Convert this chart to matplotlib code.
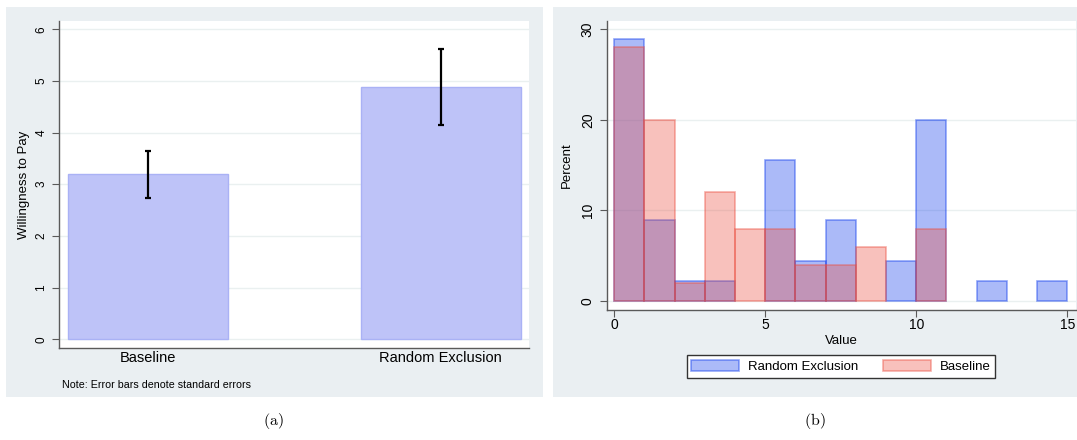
import matplotlib.pyplot as plt
import numpy as np
from matplotlib.patches import Rectangle

plt.rcParams['font.family'] = ['Liberation Sans', 'DejaVu Sans']
plt.rcParams['mathtext.fontset'] = 'cm'

# panel (a): mean willingness to pay with standard errors
groups = ['Baseline', 'Random Exclusion']
wtp_mean = [3.19, 4.88]
wtp_se = [0.45, 0.73]

# panel (b): histogram percentages, bins of width 1 starting at 0
bin_left = np.arange(15)
pct_random = [28.9, 8.9, 2.2, 2.2, 0, 15.6, 4.4, 8.9, 0, 4.4, 20.0, 0, 2.2, 0, 2.2]
pct_baseline = [28, 20, 2, 12, 8, 8, 4, 4, 6, 0, 8, 0, 0, 0, 0]

W, H = 1077, 440
fig = plt.figure(figsize=(W / 100, H / 100), dpi=100)
fig.patch.set_facecolor('white')

panel_bg = '#eaeff2'
grid_c = '#eaf0f0'
axis_c = '#5a5a5a'

def px_box(x0, y0, x1, y1):
    return [x0 / W, 1 - y1 / H, (x1 - x0) / W, (y1 - y0) / H]

# grey Stata-like panels, behind the axes
for x0, x1 in [(6, 543), (553, 1077)]:
    l, b, w, h = px_box(x0, 7, x1, 397)
    fig.patches.append(Rectangle((l, b), w, h, transform=fig.transFigure,
                                 facecolor=panel_bg, edgecolor='none', zorder=-5))

def style_axes(ax, fs):
    ax.set_facecolor('white')
    for s in ['top', 'right']:
        ax.spines[s].set_visible(False)
    for s in ['left', 'bottom']:
        ax.spines[s].set_color(axis_c)
        ax.spines[s].set_linewidth(1.0)
    ax.tick_params(colors=axis_c, labelcolor='black', labelsize=fs, length=5, width=0.8)
    ax.yaxis.grid(True, color=grid_c, linewidth=1.0)
    ax.set_axisbelow(True)
    for lab in ax.get_yticklabels():
        lab.set_rotation(90)
        lab.set_va('center')

# ---- panel (a)
ax1 = fig.add_axes(px_box(59, 21, 529, 348))
x = np.arange(len(groups))
ax1.bar(x, wtp_mean, width=0.547, color='#bec3f8', edgecolor='#aab2f5', linewidth=1.0, zorder=2)
ax1.errorbar(x, wtp_mean, yerr=wtp_se, fmt='none', ecolor='black', elinewidth=1.6,
             capsize=2.5, capthick=1.6, zorder=3)
ax1.set_xlim(-0.305, 1.302)
ax1.set_ylim(-0.17, 6.16)
ax1.set_yticks(range(0, 7))
ax1.set_xticks(x)
ax1.set_xticklabels(groups)
style_axes(ax1, 8.5)
ax1.tick_params(axis='x', length=0, pad=2, labelsize=10.5)
ax1.set_ylabel('Willingness to Pay', fontsize=9.5, labelpad=4)
fig.text(62 / W, 1 - 385 / H, 'Note: Error bars denote standard errors', fontsize=7.7,
         va='center', ha='left')

# ---- panel (b)
ax2 = fig.add_axes(px_box(606.7, 21, 1076, 310))
blue = (0.06, 0.23, 0.93)
red = (0.92, 0.31, 0.25)
pr = np.array(pct_random, dtype=float)
pb = np.array(pct_baseline, dtype=float)
m = pr > 0
ax2.bar(bin_left[m], pr[m], width=1, align='edge', color=blue + (0.35,),
        edgecolor=blue + (0.45,), linewidth=1.2, label='Random Exclusion', zorder=2)
m = pb > 0
ax2.bar(bin_left[m], pb[m], width=1, align='edge', color=red + (0.35,),
        edgecolor=red + (0.45,), linewidth=1.2, label='Baseline', zorder=3)
ax2.set_xlim(-0.25, 15.29)
ax2.set_ylim(-0.99, 30.9)
ax2.set_xticks([0, 5, 10, 15])
ax2.set_yticks([0, 10, 20, 30])
style_axes(ax2, 10)
ax2.tick_params(axis='x', pad=1)
ax2.set_xlabel('Value', fontsize=9.5, labelpad=2)
ax2.set_ylabel('Percent', fontsize=9.5, labelpad=6)
leg = fig.legend(loc='center', bbox_to_anchor=(841 / W, 1 - 366.7 / H), ncol=2,
                 fontsize=9.5, handlelength=3.6, handleheight=0.95, handletextpad=0.7,
                 columnspacing=1.9, fancybox=False, framealpha=1, borderpad=0.35)
leg.get_frame().set_edgecolor('#333333')
leg.get_frame().set_linewidth(1.0)

# captions
fig.text(273 / W, 1 - 421 / H, r'$(\mathrm{a})$', fontsize=11.5, ha='center', va='center')
fig.text(815 / W, 1 - 421 / H, r'$(\mathrm{b})$', fontsize=11.5, ha='center', va='center')

fig.savefig('out.png', dpi=100)
